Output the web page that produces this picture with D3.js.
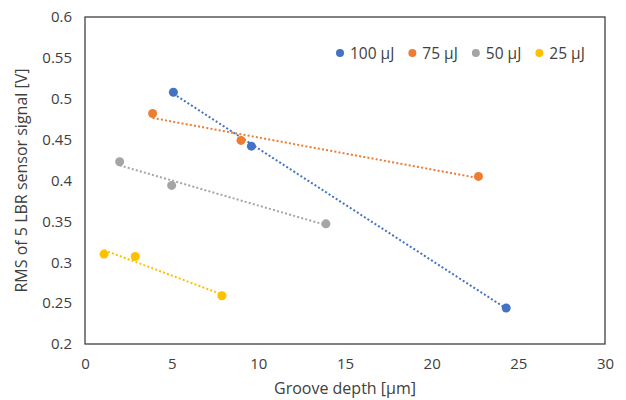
<!DOCTYPE html>
<html>
<head>
<meta charset="utf-8">
<script src="https://cdn.jsdelivr.net/npm/d3@7"></script>
<style>
  body { margin: 0; background: #fff; }
  text { font-family: "Open Sans", sans-serif; fill: #404040; }
</style>
</head>
<body>
<div id="chart"></div>
<script>
// Data
var seriesNames = ["100 µJ", "75 µJ", "50 µJ", "25 µJ"];
var depth100 = [5.1, 9.6, 24.3];
var rms100 = [0.508, 0.442, 0.244];
var depth75 = [3.9, 9.0, 22.7];
var rms75 = [0.482, 0.449, 0.405];
var depth50 = [2.0, 5.0, 13.9];
var rms50 = [0.423, 0.394, 0.347];
var depth25 = [1.1, 2.9, 7.9];
var rms25 = [0.310, 0.307, 0.259];
var xTicks = [0, 5, 10, 15, 20, 25, 30];
var yTicks = [0.2, 0.25, 0.3, 0.35, 0.4, 0.45, 0.5, 0.55, 0.6];

var colors = ["#4472C4", "#ED7D31", "#A5A5A5", "#FFC000"];

var svgWidth = 626;
var svgHeight = 400;
var margin = { top: 17, right: 21, bottom: 56, left: 85 };
var width = svgWidth - margin.left - margin.right;
var height = svgHeight - margin.top - margin.bottom;

var series = [
  { name: seriesNames[0], x: depth100, y: rms100 },
  { name: seriesNames[1], x: depth75, y: rms75 },
  { name: seriesNames[2], x: depth50, y: rms50 },
  { name: seriesNames[3], x: depth25, y: rms25 }
];

var svg = d3.select("#chart")
  .append("svg")
  .attr("width", svgWidth)
  .attr("height", svgHeight);

var chart = svg.append("g")
  .attr("transform", `translate(${margin.left}, ${margin.top})`);

var xScale = d3.scaleLinear().domain([0, 30]).range([0, width]);
var yScale = d3.scaleLinear().domain([0.2, 0.6]).range([height, 0]);

// plot frame
chart.append("rect")
  .attr("width", width)
  .attr("height", height)
  .attr("fill", "none")
  .attr("stroke", "#404040")
  .attr("stroke-width", 1.3);

// axes (labels only, frame drawn above)
var bottomAxis = d3.axisBottom(xScale).tickValues(xTicks).tickSize(0).tickPadding(14);
var leftAxis = d3.axisLeft(yScale).tickValues(yTicks).tickSize(0).tickPadding(13)
  .tickFormat(d => String(+d.toFixed(2)));

var gx = chart.append("g")
  .attr("transform", `translate(0, ${height})`)
  .call(bottomAxis);
var gy = chart.append("g").call(leftAxis);
[gx, gy].forEach(function(g) {
  g.select(".domain").remove();
  g.selectAll("text").style("font-size", "15px").attr("fill", "#404040")
    .style("font-family", "'Open Sans', sans-serif");
});

// linear trendlines (least squares through each series)
function fit(xs, ys) {
  var mx = d3.mean(xs), my = d3.mean(ys);
  var sxy = d3.sum(xs, (x, i) => (x - mx) * (ys[i] - my));
  var sxx = d3.sum(xs, x => (x - mx) * (x - mx));
  var b = sxy / sxx;
  return { a: my - b * mx, b: b };
}

series.forEach(function(s, i) {
  var f = fit(s.x, s.y);
  var x0 = d3.min(s.x), x1 = d3.max(s.x);
  chart.append("line")
    .attr("x1", xScale(x0))
    .attr("y1", yScale(f.a + f.b * x0))
    .attr("x2", xScale(x1))
    .attr("y2", yScale(f.a + f.b * x1))
    .attr("stroke", colors[i])
    .attr("stroke-width", 2)
    .attr("stroke-dasharray", "2,2.2");
});

series.forEach(function(s, i) {
  chart.selectAll(null)
    .data(s.x.map((x, j) => [x, s.y[j]]))
    .enter()
    .append("circle")
    .attr("cx", d => xScale(d[0]))
    .attr("cy", d => yScale(d[1]))
    .attr("r", 4.5)
    .attr("fill", colors[i]);
});

// legend
var legend = svg.append("g").attr("transform", "translate(340, 53)");
var lx = 0;
seriesNames.forEach(function(name, i) {
  legend.append("circle").attr("cx", lx).attr("cy", 0).attr("r", 4).attr("fill", colors[i]);
  var t = legend.append("text")
    .attr("x", lx + 10)
    .attr("y", 5.5)
    .style("font-size", "15.5px")
    .text(name);
  lx += 10 + t.node().getComputedTextLength() + 18;
});

// axis titles
svg.append("text")
  .attr("x", margin.left + width / 2)
  .attr("y", 394)
  .attr("text-anchor", "middle")
  .style("font-size", "16px")
  .text("Groove depth [µm]");

svg.append("text")
  .attr("transform", `translate(27, ${margin.top + height / 2}) rotate(-90)`)
  .attr("text-anchor", "middle")
  .style("font-size", "16px")
  .text("RMS of 5 LBR sensor signal [V]");
</script>
</body>
</html>
